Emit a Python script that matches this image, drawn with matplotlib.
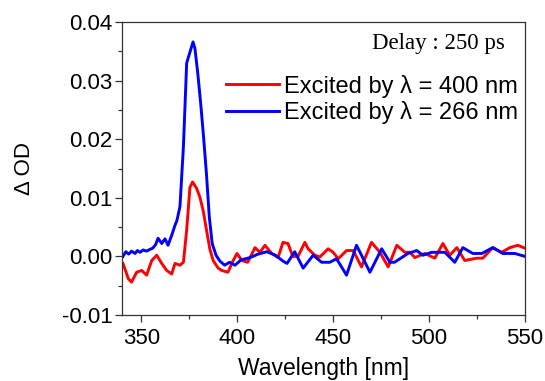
import matplotlib
matplotlib.use("Agg")
import matplotlib.pyplot as plt
from matplotlib.ticker import MultipleLocator, FormatStrFormatter

# Transient absorption spectra at 250 ps delay
wl_266 = [340.5, 342, 343.5, 345, 346.8, 348, 349.4, 351, 352.8, 354.5, 356, 357.5,
          358.8, 360.7, 362.4, 364, 365.9, 367.6, 368.6, 370.2, 372, 373.7, 374.6,
          376, 377, 378, 379.5, 381, 382.5, 384, 385.5, 387, 389, 391, 393.5, 396,
          398.9, 402, 406.7, 411, 415.5, 420, 423.9, 426, 430, 434.4, 439.6, 444,
          448.3, 451.8, 457, 462.2, 469.2, 475.3, 479.6, 482, 489, 493.6, 496.8,
          501.4, 508.2, 513.4, 517.6, 522.8, 527.5, 533.2, 538.4, 544.7, 550]
od_266 = [0.0000, 0.0008, 0.0004, 0.0009, 0.0005, 0.0010, 0.0007, 0.0011, 0.0009,
          0.0012, 0.0014, 0.0020, 0.0031, 0.0022, 0.0030, 0.0019, 0.0036, 0.0053,
          0.0061, 0.0085, 0.0187, 0.0330, 0.0340, 0.0355, 0.0366, 0.0355, 0.0312,
          0.0261, 0.0204, 0.0141, 0.0067, 0.0022, 0.0002, -0.0008, -0.0015, -0.0010,
          -0.0015, -0.0006, -0.0002, 0.0004, 0.0008, 0.0002, -0.0008, -0.0012,
          0.0008, -0.0020, 0.0002, -0.0010, -0.0010, -0.0004, -0.0032, 0.0019,
          -0.0027, 0.0013, -0.0010, -0.0010, 0.0005, 0.0010, 0.0002, 0.0007,
          0.0007, -0.0010, 0.0015, 0.0005, 0.0005, 0.0015, 0.0005, 0.0005, 0.0000]

wl_400 = [340.5, 343.3, 345, 347.6, 350.3, 352.8, 355.5, 358.1, 360.7, 363.3, 365.9,
          367.6, 370.2, 372, 373.7, 375.4, 376.8, 378.9, 380.6, 382.3, 384.1, 385.8,
          387.5, 390.1, 392, 395.2, 397.5, 399.9, 402.5, 405.5, 409.3, 411.9, 414.5,
          418, 421.3, 423.9, 426.5, 429, 431.7, 435.3, 437, 440.5, 443.1, 447.4, 450,
          452.7, 457, 460.5, 464.8, 470, 474.4, 478.7, 483.2, 487.4, 490, 492.6,
          497.8, 503, 507.2, 510.8, 514.5, 518.6, 524.9, 528, 533.2, 537.9, 542.1,
          546.3, 550]
od_400 = [-0.0012, -0.0038, -0.0044, -0.0027, -0.0024, -0.0032, -0.0007, 0.0002,
          -0.0012, -0.0024, -0.0030, -0.0012, -0.0015, -0.0010, 0.0045, 0.0118,
          0.0127, 0.0116, 0.0101, 0.0078, 0.0044, 0.0012, -0.0007, -0.0020, -0.0024,
          -0.0027, -0.0010, 0.0005, -0.0007, -0.0010, 0.0015, 0.0007, 0.0019, 0.0005,
          -0.0002, 0.0024, 0.0022, 0.0000, 0.0000, 0.0024, 0.0013, 0.0002, -0.0001,
          0.0013, 0.0007, -0.0004, 0.0010, 0.0010, -0.0018, 0.0024, 0.0007, -0.0018,
          0.0019, 0.0007, 0.0007, -0.0002, 0.0005, -0.0003, 0.0022, 0.0002, 0.0015,
          -0.0007, -0.0003, -0.0003, 0.0015, 0.0007, 0.0015, 0.0019, 0.0014]

labels = ["Excited by \u03bb = 400 nm", "Excited by \u03bb = 266 nm"]
delay_text = "Delay : 250 ps"

plt.rcParams["font.family"] = ["Liberation Sans", "DejaVu Sans"]

fig = plt.figure(figsize=(5.45, 3.81), dpi=100)
ax = fig.add_axes([122 / 545, 66 / 381, 403 / 545, 293 / 381])

ax.plot(wl_400, od_400, color="#ff0000", lw=2.1, label=labels[0],
        solid_joinstyle="round")
ax.plot(wl_266, od_266, color="#0000ff", lw=2.1, label=labels[1],
        solid_joinstyle="round")

ax.set_xlim(340, 550)
ax.set_ylim(-0.01, 0.04)
ax.xaxis.set_major_locator(MultipleLocator(50))
ax.xaxis.set_minor_locator(MultipleLocator(25))
ax.yaxis.set_major_locator(MultipleLocator(0.01))
ax.yaxis.set_minor_locator(MultipleLocator(0.005))
ax.yaxis.set_major_formatter(FormatStrFormatter("%.2f"))

ax.tick_params(which="both", direction="out", top=False, right=False,
               labelsize=16, width=0.9, color="#333333", pad=2)
ax.tick_params(axis="x", which="both", pad=4)
ax.tick_params(which="major", length=5)
ax.tick_params(which="minor", length=3)
for s in ax.spines.values():
    s.set_linewidth(0.9)
    s.set_color("#333333")

ax.set_xlabel("Wavelength [nm]", fontsize=16.5, labelpad=6)
ax.set_ylabel("\u0394 OD", fontsize=16, labelpad=19)

ax.legend(loc="upper left", bbox_to_anchor=(0.258, 0.82), frameon=False,
          fontsize=17, handlelength=2.25, handletextpad=0.2, labelspacing=0.13,
          borderaxespad=0, borderpad=0)

ax.text(0.95, 0.925, delay_text, transform=ax.transAxes, ha="right", va="center",
        fontsize=16.5, family="Liberation Serif")

fig.savefig("out.png", dpi=100)
